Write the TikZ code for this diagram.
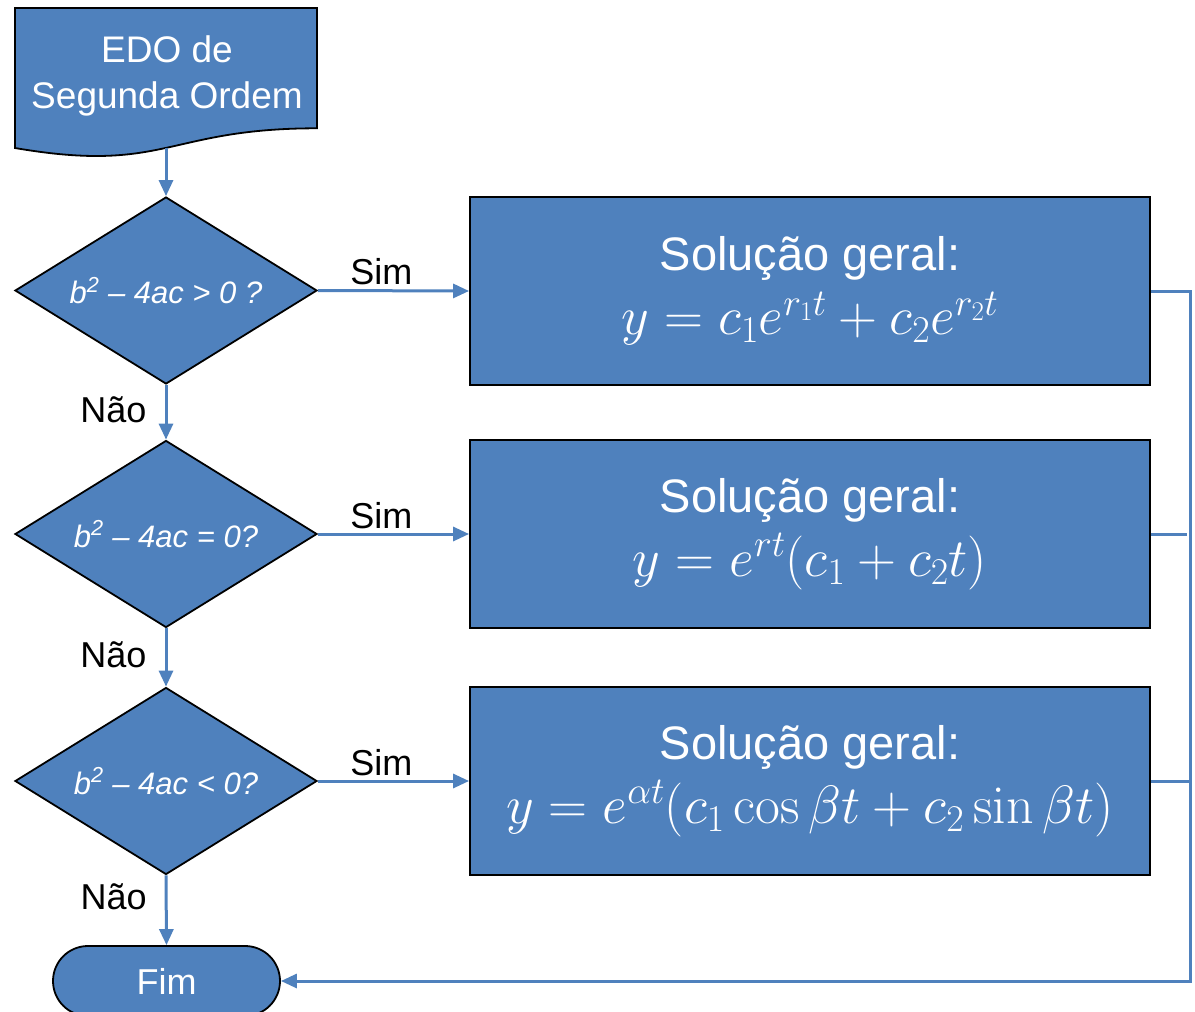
\RequirePackage{fix-cm}
\documentclass[tikz,border=0pt]{standalone}
\usepackage[no-math]{fontspec}
\setmainfont{Liberation Sans}
\usetikzlibrary{shapes.geometric,shapes.misc,arrows.meta}
\definecolor{boxblue}{RGB}{79,129,189}
\definecolor{lineblue}{RGB}{79,129,189}
\newcommand{\formulasize}{\fontsize{54}{64}\selectfont}
\begin{document}
\begin{tikzpicture}[x=1pt,y=-1pt,
  shapeline/.style={draw=black,line width=1.8pt,fill=boxblue},
  decision/.style={shapeline,diamond,aspect=1.615,minimum width=302pt,minimum height=187pt,inner sep=0pt,
    text=white,font=\fontsize{31}{34}\selectfont\itshape},
  solbox/.style={shapeline,rectangle,minimum width=680pt,minimum height=188pt,inner sep=0pt,
    text=white,align=center,font=\fontsize{47}{64}\selectfont},
  terminal/.style={shapeline,rounded rectangle,minimum width=227pt,minimum height=70pt,inner sep=0pt,
    text=white,font=\fontsize{36}{40}\selectfont},
  conn/.style={draw=lineblue,line width=3pt},
  arrowconn/.style={conn,-{Triangle[length=16pt,width=14pt]}},
  yeslabel/.style={font=\fontsize{36}{40}\selectfont,anchor=south,inner sep=0pt,yshift=4pt},
  nolabel/.style={font=\fontsize{36}{40}\selectfont,anchor=east,inner sep=0pt,xshift=-18pt},
]
\useasboundingbox (0,0) rectangle (1195,1012);

% start: document shape
\path[shapeline] (15,8) -- (317,8) -- (317,128.3)
  .. controls (166,128.3) and (166,174) .. (15,148) -- cycle;
\node[text=white,align=center,font=\fontsize{37}{46}\selectfont] (doc) at (167,76)
  {EDO de\\Segunda Ordem};
\coordinate (docb) at (166,148);

% decisions
\node[decision] (q1) at (166,290.5) {b\textsuperscript{2} – 4ac > 0 ?};
\node[decision] (q2) at (166,534) {b\textsuperscript{2} – 4ac = 0?};
\node[decision] (q3) at (166,781) {b\textsuperscript{2} – 4ac < 0?};

% general solutions
\node[solbox] (s1) at (810,291) {Solução geral:\\\formulasize$y=c_1e^{r_1t}+c_2e^{r_2t}$};
\node[solbox] (s2) at (810,534) {Solução geral:\\\formulasize$y=e^{rt}(c_1+c_2t)$};
\node[solbox] (s3) at (810,781) {Solução geral:\\\formulasize$y=e^{\alpha t}(c_1\cos\beta t+c_2\sin\beta t)$};

% end
\node[terminal] (fim) at (166.5,981) {Fim};

% flow
\draw[arrowconn] (docb) -- (q1.north);
\draw[arrowconn] (q1.south) -- node[nolabel,pos=0.45] {Não} (q2.north);
\draw[arrowconn] (q2.south) -- node[nolabel,pos=0.45] {Não} (q3.north);
\draw[arrowconn] (q3.south) -- node[nolabel,pos=0.3] {Não} (fim.north);

\draw[arrowconn] (q1.east) -- node[yeslabel,pos=0.42] {Sim} (s1.west);
\draw[arrowconn] (q2.east) -- node[yeslabel,pos=0.42] {Sim} (s2.west);
\draw[arrowconn] (q3.east) -- node[yeslabel,pos=0.42] {Sim} (s3.west);

% collector line back to the end
\draw[arrowconn,line join=miter] (s1.east) -- ++(40,0) coordinate (rc) |- (fim.east);
\draw[conn] (s2.east) -- ([xshift=-4pt]s2.east -| rc);
\draw[conn] (s3.east) -- (s3.east -| rc);
\end{tikzpicture}
\end{document}
